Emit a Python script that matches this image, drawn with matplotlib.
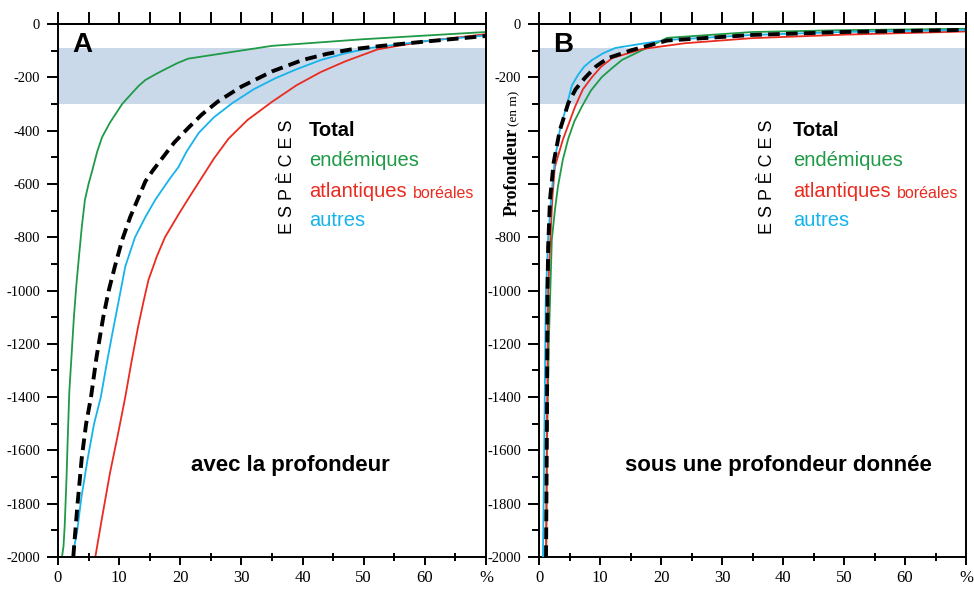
import numpy as np
import matplotlib
matplotlib.use("Agg")
from matplotlib import pyplot as plt
from matplotlib.ticker import MultipleLocator

# colours of the series
green = "#1f9a46"
red = "#ea2b1f"
cyan = "#16b3ec"
band = "#c9d9ea"

# --- panel A : avec la profondeur (x = %, y = depth in m) ---
a_total_x = [2.5, 2.7, 3.2, 3.9, 4.6, 5.4, 6.3, 7.4, 8.3, 9.3, 10.5, 11.8, 13.0, 14.3, 15.5, 17.0,
             19.0, 21.3, 23.5, 26.2, 30.0, 35.0, 40.0, 44.0, 48.0, 53.0, 60.0, 70.0]
a_total_d = [2000, 1940, 1800, 1625, 1500, 1400, 1250, 1100, 1000, 910, 810, 725, 660, 590, 550, 505,
             445, 390, 340, 290, 235, 178, 135, 112, 95, 82, 66, 45]

a_end_x = [0.65, 0.9, 1.1, 1.4, 1.6, 1.85, 2.2, 2.6, 3.0, 3.4, 3.9, 4.4, 5.0, 5.6, 6.4, 7.2, 8.5,
           10.5, 12.0, 13.2, 14.3, 16.0, 17.5, 19.5, 21.3, 35.0, 50.0, 70.0]
a_end_d = [2000, 1960, 1880, 1700, 1550, 1380, 1250, 1100, 980, 880, 760, 660, 600, 550, 480, 425, 370,
           300, 262, 232, 210, 188, 170, 147, 130, 82, 57, 30]

a_atl_x = [6.1, 7.3, 8.5, 9.8, 11.0, 12.0, 13.1, 14.0, 14.8, 16.2, 17.5, 19.7, 21.6, 23.0, 25.5,
           27.9, 31.0, 35.0, 39.0, 43.0, 47.0, 52.3, 60.0, 70.0]
a_atl_d = [2000, 1840, 1685, 1540, 1400, 1270, 1136, 1040, 960, 870, 800, 715, 645, 595, 505,
           430, 360, 292, 230, 180, 140, 95, 65, 38]

a_aut_x = [2.7, 3.1, 3.8, 4.9, 5.9, 7.0, 8.0, 8.9, 10.0, 11.0, 12.6, 14.3, 15.9, 17.0, 18.3, 19.7,
           21.0, 23.0, 25.5, 28.5, 32.0, 35.6, 39.0, 43.0, 47.0, 51.0, 60.0, 70.0]
a_aut_d = [1955, 1910, 1780, 1625, 1500, 1400, 1270, 1160, 1030, 910, 800, 724, 660, 623, 580, 537,
           480, 409, 350, 297, 245, 203, 170, 135, 110, 90, 64, 43]

# --- panel B : sous une profondeur donnée ---
b_total_x = [1.15, 1.3, 1.4, 1.5, 1.8, 2.4, 3.4, 4.8, 6.0, 7.5, 9.3, 11.3, 15.2, 21.0, 35.0, 50.0, 70.0]
b_total_d = [2000, 1500, 1000, 836, 660, 520, 400, 297, 245, 203, 160, 128, 98, 62, 41, 30, 22]

b_end_x = [1.2, 1.3, 1.6, 2.1, 2.6, 3.1, 3.9, 4.8, 5.8, 7.0, 8.5, 10.3, 12.0, 13.6, 16.9, 21.0, 35.0, 50.0, 70.0]
b_end_d = [2000, 1600, 1200, 810, 700, 611, 510, 430, 365, 311, 250, 199, 165, 135, 98, 52, 30, 23, 18]

b_atl_x = [1.15, 1.3, 1.5, 1.8, 2.2, 2.6, 3.9, 5.9, 7.2, 8.7, 10.2, 12.0, 16.9, 24.0, 35.0, 50.0, 70.0]
b_atl_d = [2000, 1500, 1000, 836, 650, 536, 435, 311, 245, 199, 160, 128, 94, 72, 53, 40, 28]

b_aut_x = [0.65, 0.9, 1.1, 1.5, 2.0, 2.6, 3.4, 4.6, 5.4, 6.4, 7.4, 8.7, 10.5, 12.5, 17.4, 21.0, 35.0, 50.0, 70.0]
b_aut_d = [2000, 1500, 1035, 800, 650, 510, 400, 300, 230, 191, 160, 135, 110, 90, 72, 60, 41, 30, 22]

x_ticks = [0, 10, 20, 30, 40, 50, 60, 70]
x_labels = ["0", "10", "20", "30", "40", "50", "60", "%"]
y_ticks = list(range(0, -2001, -200))
band_top, band_bottom = -90, -300

legend_names = ["Total", "endémiques", "atlantiques", "autres"]
legend_colors = ["black", green, red, cyan]

W, H = 974, 589
fig = plt.figure(figsize=(W / 100, H / 100), dpi=100)
serif = "Liberation Serif"
sans = "Liberation Sans"


def px(x, y):
    return x / W, 1 - y / H


def setup(ax, hide=()):
    ax.set_xlim(0, 70)
    ax.set_ylim(-2000, 0)
    ax.axhspan(band_bottom, band_top, color=band, lw=0, zorder=0)
    for s in ax.spines.values():
        s.set_linewidth(1.4)
    ax.set_xticks(x_ticks)
    ax.set_xticklabels(x_labels, fontfamily=serif, fontsize=12)
    ax.xaxis.set_minor_locator(MultipleLocator(5))
    ax.set_yticks(y_ticks)
    ax.set_yticklabels(["" if v in hide else str(v) for v in y_ticks], fontfamily=serif, fontsize=10.5)
    ax.yaxis.set_minor_locator(MultipleLocator(100))
    ax.tick_params(axis="x", which="major", direction="out", length=6, width=1.4, pad=3)
    ax.tick_params(axis="x", which="minor", direction="inout", length=6, width=1.4)
    ax.tick_params(axis="y", which="major", direction="out", length=8, width=1.4, pad=5)
    ax.tick_params(axis="y", which="minor", direction="out", length=5, width=1.4)
    top = ax.secondary_xaxis("top")
    top.set_xticks(range(0, 71, 5))
    top.tick_params(direction="out", length=9, width=1.4, labeltop=False)
    top.spines["top"].set_linewidth(1.4)


def draw(ax, tot, end, atl, aut):
    ax.plot(end[0], -np.array(end[1]), color=green, lw=1.3, zorder=2)
    ax.plot(atl[0], -np.array(atl[1]), color=red, lw=1.3, zorder=2)
    ax.plot(aut[0], -np.array(aut[1]), color=cyan, lw=1.3, zorder=3)
    ax.plot(tot[0], -np.array(tot[1]), color="black", lw=2.8, zorder=4,
            dashes=(3.0, 1.6), dash_capstyle="butt", dash_joinstyle="round")


axA = fig.add_axes([58 / W, 1 - 557 / H, (486 - 58) / W, (557 - 24) / H])
axB = fig.add_axes([539 / W, 1 - 557 / H, (966 - 539) / W, (557 - 24) / H])
setup(axA)
setup(axB, hide=(-400, -600))
draw(axA, (a_total_x, a_total_d), (a_end_x, a_end_d), (a_atl_x, a_atl_d), (a_aut_x, a_aut_d))
draw(axB, (b_total_x, b_total_d), (b_end_x, b_end_d), (b_atl_x, b_atl_d), (b_aut_x, b_aut_d))

# panel letters
fig.text(*px(82, 45), "A", fontfamily=sans, fontweight="bold", fontsize=20, ha="center", va="center")
fig.text(*px(563, 45), "B", fontfamily=sans, fontweight="bold", fontsize=20, ha="center", va="center")

# legends written inside each panel
for ex, tx in [(288, 309), (768, 793)]:
    fig.text(*px(ex, 177), " ".join("ESPÈCES"), fontfamily=sans, fontsize=13,
             rotation=90, ha="center", va="center")
    for i, (name, col) in enumerate(zip(legend_names, legend_colors)):
        fig.text(*px(tx, 131 + 30 * i), name, color=col, fontfamily=sans, fontsize=14.5,
                 fontweight="bold" if name == "Total" else "normal", va="center")
    fig.text(*px(tx + 104, 193), "boréales", color=red, fontfamily=sans,
             fontsize=11.5, va="center")

fig.text(*px(290, 465), "avec la profondeur", fontfamily=sans, fontweight="bold",
         fontsize=16, ha="center", va="center")
fig.text(*px(778, 465), "sous une profondeur donnée", fontfamily=sans, fontweight="bold",
         fontsize=16, ha="center", va="center")

# y label of panel B, two sizes
fig.text(*px(512, 216), "Profondeur", fontfamily=serif, fontweight="bold", fontsize=13,
         rotation=90, ha="center", va="bottom")
fig.text(*px(514, 126), "(en m)", fontfamily=serif, fontsize=9.5,
         rotation=90, ha="center", va="bottom")

fig.savefig("out.png", dpi=100)
